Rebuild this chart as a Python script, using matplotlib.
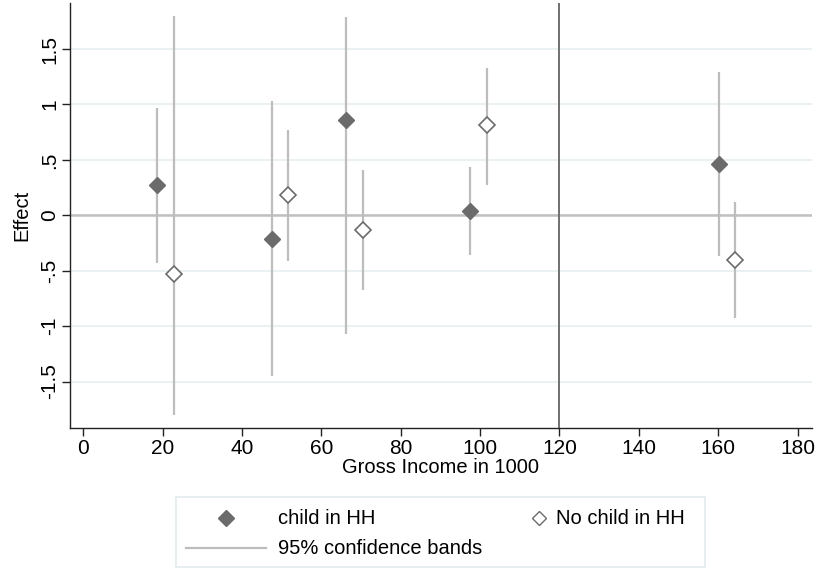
import matplotlib
matplotlib.use('Agg')
import matplotlib.pyplot as plt
from matplotlib.lines import Line2D
import numpy as np

# effect estimates
income_child = [18.7, 47.7, 66.3, 97.5, 160.1]
effect_child = [0.27, -0.21, 0.86, 0.04, 0.46]
lo_child = [-0.43, -1.45, -1.07, -0.36, -0.37]
hi_child = [0.97, 1.03, 1.79, 0.44, 1.29]

income_nochild = [22.8, 51.7, 70.5, 101.8, 164.3]
effect_nochild = [-0.53, 0.18, -0.13, 0.81, -0.40]
lo_nochild = [-1.80, -0.41, -0.67, 0.27, -0.93]
hi_nochild = [1.80, 0.77, 0.41, 1.33, 0.12]

yticks = [-1.5, -1, -0.5, 0, 0.5, 1, 1.5]
ytick_labels = ['-1.5', '-1', '-.5', '0', '.5', '1', '1.5']
xticks = [0, 20, 40, 60, 80, 100, 120, 140, 160, 180]

plt.rcParams['font.family'] = ['Liberation Sans', 'DejaVu Sans']

dark = '#6b6b6b'
band = '#bdbdbd'

fig = plt.figure(figsize=(8.18, 5.70), dpi=100)
ax = fig.add_axes([0.0856, 0.249, 0.907, 0.7457])

for y in yticks:
    ax.axhline(y, color='#e8f0f2', lw=1.3, zorder=0)
ax.axhline(0, color='#c0c0c0', lw=1.8, zorder=1)
ax.axvline(120, color='#707070', lw=1.4, zorder=1)

ax.vlines(income_child, lo_child, hi_child, color=band, lw=1.6, zorder=2)
ax.vlines(income_nochild, lo_nochild, hi_nochild, color=band, lw=1.6, zorder=2)
ax.plot(income_child, effect_child, 'D', ms=8.5, color=dark, mec=dark, zorder=3)
ax.plot(income_nochild, effect_nochild, 'D', ms=8, mfc='white', mec=dark,
        mew=1.2, zorder=3)

ax.set_xlim(-3.3, 183.6)
ax.set_ylim(-1.92, 1.915)
ax.set_xticks(xticks)
ax.set_yticks(yticks)
ax.set_yticklabels(ytick_labels, rotation=90, va='center')
ax.tick_params(labelsize=15, length=6, width=1, color='#222222', pad=2)
for s in ['top', 'right']:
    ax.spines[s].set_visible(False)
for s in ['left', 'bottom']:
    ax.spines[s].set_color('#222222')
    ax.spines[s].set_linewidth(1.0)
ax.set_xlabel('Gross Income in 1000', fontsize=14.5, labelpad=0)
ax.set_ylabel('Effect', fontsize=14.5, labelpad=6)

# legend box drawn in its own axes
lg = fig.add_axes([176 / 818, 1 - 567 / 570, (705 - 176) / 818, (567 - 497) / 570])
lg.set_xlim(0, 529)
lg.set_ylim(70, 0)
lg.set_xticks([])
lg.set_yticks([])
for s in lg.spines.values():
    s.set_color('#e3ebee')
    s.set_linewidth(1.2)
lg.plot([50], [21], 'D', ms=8, color=dark)
lg.text(102, 21, 'child in HH', fontsize=14.5, va='center')
lg.plot([363], [21], 'D', ms=7, mfc='white', mec=dark, mew=1.0)
lg.text(380, 21, 'No child in HH', fontsize=14.5, va='center')
lg.add_line(Line2D([10, 90], [51, 51], color=band, lw=1.6))
lg.text(102, 51, '95% confidence bands', fontsize=14.5, va='center')

fig.savefig('out.png', dpi=100)
